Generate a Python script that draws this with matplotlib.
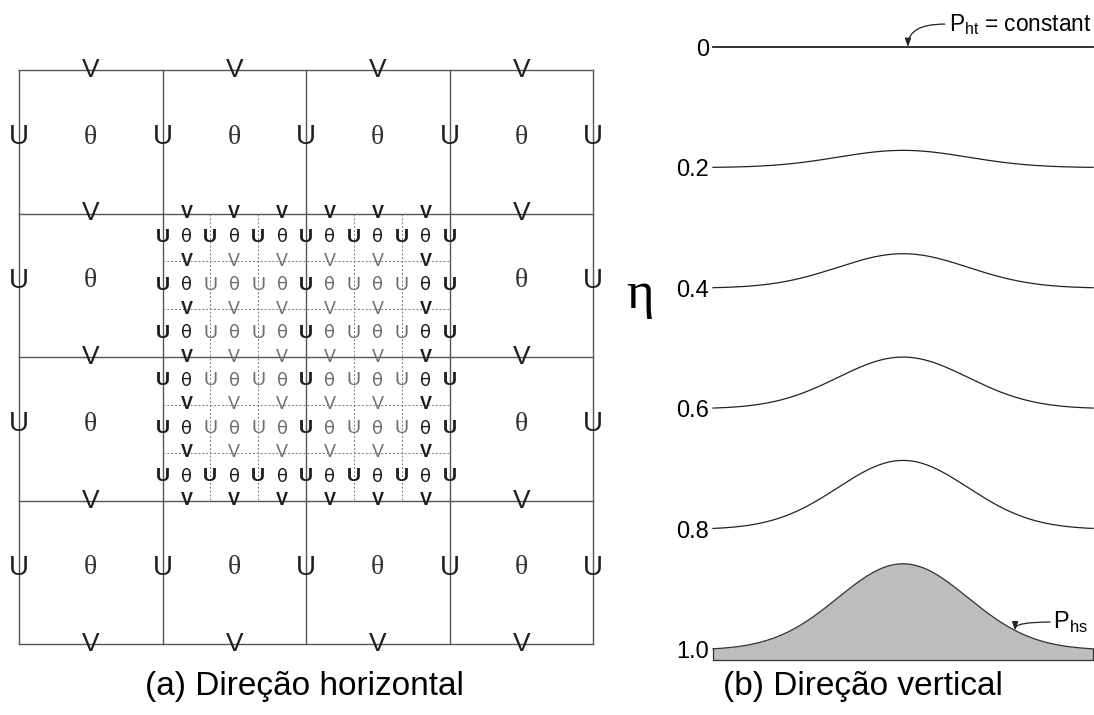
import numpy as np
import matplotlib.pyplot as plt

# coarse grid and nested fine grid (horizontal direction)
n_coarse = 4           # coarse cells per side
nest_origin = 1        # first coarse cell covered by the nest
nest_cells = 2         # coarse cells covered by the nest
ratio = 3              # refinement ratio

# vertical eta levels
levels = [0.0, 0.2, 0.4, 0.6, 0.8, 1.0]
level_labels = ['0', '0.2', '0.4', '0.6', '0.8', '1.0']
hill_peak = 0.143      # terrain height in eta units
hill_center = 0.5
hill_width = 0.242
base_depth = 0.0166

W, H = 1094, 715
fig = plt.figure(figsize=(W / 100, H / 100), dpi=100)


def box(x0, y0, x1, y1):
    # pixel box (top-left origin) -> figure fraction rect
    return [x0 / W, 1 - y1 / H, (x1 - x0) / W, (y1 - y0) / H]


SANS = 'Liberation Sans'
SERIF = 'Liberation Serif'
dark = '#1e1e1e'
light = '#6e6e6e'

# ---------------- (a) horizontal grid ----------------
ax = fig.add_axes(box(19, 70, 593, 644))
ax.set_xlim(0, n_coarse)
ax.set_ylim(n_coarse, 0)
ax.axis('off')

for k in range(n_coarse + 1):
    ax.plot([k, k], [0, n_coarse], color='#555555', lw=1.0, clip_on=False)
    ax.plot([0, n_coarse], [k, k], color='#555555', lw=1.0, clip_on=False)

a, b = nest_origin, nest_origin + nest_cells
fine = np.linspace(a, b, nest_cells * ratio + 1)
for f in fine[1:-1]:
    if abs(f - round(f)) < 1e-9:
        continue
    ax.plot([f, f], [a, b], color='#777777', lw=0.7, ls=(0, (2, 2)))
    ax.plot([a, b], [f, f], color='#777777', lw=0.7, ls=(0, (2, 2)))


def in_nest(x, y):
    return a - 1e-9 <= x <= b + 1e-9 and a - 1e-9 <= y <= b + 1e-9


# coarse labels
for i in range(n_coarse):
    for j in range(n_coarse + 1):
        xc = i + 0.5
        if not in_nest(xc, j):
            ax.text(xc, j, 'V', fontsize=19, family=SANS, color=dark,
                    ha='center', va='center')
        if not in_nest(j, xc):
            ax.text(j, xc - 0.03, 'U', fontsize=20, family=SANS, color=dark,
                    ha='center', va='center')
    for j in range(n_coarse):
        if not in_nest(i + 0.5, j + 0.5):
            ax.text(i + 0.5, j + 0.5 - 0.03, 'θ', fontsize=20, family=SERIF,
                    color='#333333', ha='center', va='center')

# fine labels
m = nest_cells * ratio
step = nest_cells / m


def style(is_dark):
    if is_dark:
        return dict(color=dark, fontweight='bold')
    return dict(color=light, fontweight='normal')


for i in range(m):
    xc = a + (i + 0.5) * step
    for j in range(m + 1):
        yl = a + j * step
        ax.text(xc, yl, 'V', fontsize=13, family=SANS, ha='center',
                va='center', **style(j in (0, m) or i in (0, m - 1)))
    for j in range(m):
        yc = a + (j + 0.5) * step
        ax.text(xc, yc, 'θ', fontsize=13, family='DejaVu Sans', ha='center',
                va='center', color=dark if (j in (0, m - 1) or i in (0, m - 1))
                else light)
for i in range(m + 1):
    xl = a + i * step
    for j in range(m):
        yc = a + (j + 0.5) * step
        ax.text(xl, yc, 'U', fontsize=14, family=SANS, ha='center',
                va='center', **style(i % ratio == 0 or j in (0, m - 1)))

fig.text(304 / W, 1 - 686 / H, '(a) Direção horizontal', fontsize=24,
         family=SANS, ha='center', va='center')

# ---------------- (b) vertical coordinate ----------------
ax2 = fig.add_axes(box(713, 47, 1093, 650))
ax2.set_xlim(0, 1)
ax2.set_ylim(1, 0)
for s in ax2.spines.values():
    s.set_visible(False)
ax2.set_xticks([])
ax2.set_yticks(levels)
ax2.set_yticklabels(level_labels, fontsize=17, family=SANS)
ax2.tick_params(axis='y', length=0, pad=3)

x = np.linspace(0, 1, 400)
hill = np.exp(-((x - hill_center) / hill_width) ** 2)
for lev in levels[:-1]:
    ax2.plot(x, lev - lev * hill_peak * hill, color='#222222',
             lw=1.3 if lev == 0 else 0.9, clip_on=False)

surface = 1.0 - hill_peak * hill
ax2.fill_between(x, surface, 1.0 + base_depth, color='#bdbdbd',
                 edgecolor='none', clip_on=False)
ax2.plot(x, surface, color='#333333', lw=0.9, clip_on=False)
ax2.plot(np.r_[0, 0, 1, 1], np.r_[surface[0], 1 + base_depth, 1 + base_depth,
                                   surface[-1]],
         color='#333333', lw=0.9, clip_on=False)

arrow = dict(arrowstyle='-|>,head_length=0.5,head_width=0.18', color='#222222',
             lw=0.9, shrinkA=0, shrinkB=0,
             connectionstyle='angle3,angleA=0,angleB=90')

ax2.annotate('', xy=(0.513, 0.0), xytext=(0.61, -0.038), arrowprops=arrow,
             annotation_clip=False)
ax2.text(0.622, -0.038, r'P$_\mathregular{ht}$ = constant', fontsize=16.3,
         family=SANS, va='center', ha='left')

xa = 0.795
ya = 1.0 - hill_peak * np.exp(-((xa - hill_center) / hill_width) ** 2)
ax2.annotate('', xy=(xa, ya), xytext=(0.887, 0.9536), arrowprops=arrow,
             annotation_clip=False)
ax2.text(0.895, 0.9536, r'P$_\mathregular{hs}$', fontsize=17, family=SANS,
         va='center', ha='left')

fig.text(640 / W, 1 - 295 / H, 'η', fontsize=38, family=SERIF,
         ha='center', va='center')
fig.text(863 / W, 1 - 686 / H, '(b) Direção vertical', fontsize=24,
         family=SANS, ha='center', va='center')

fig.savefig('out.png', dpi=100)
